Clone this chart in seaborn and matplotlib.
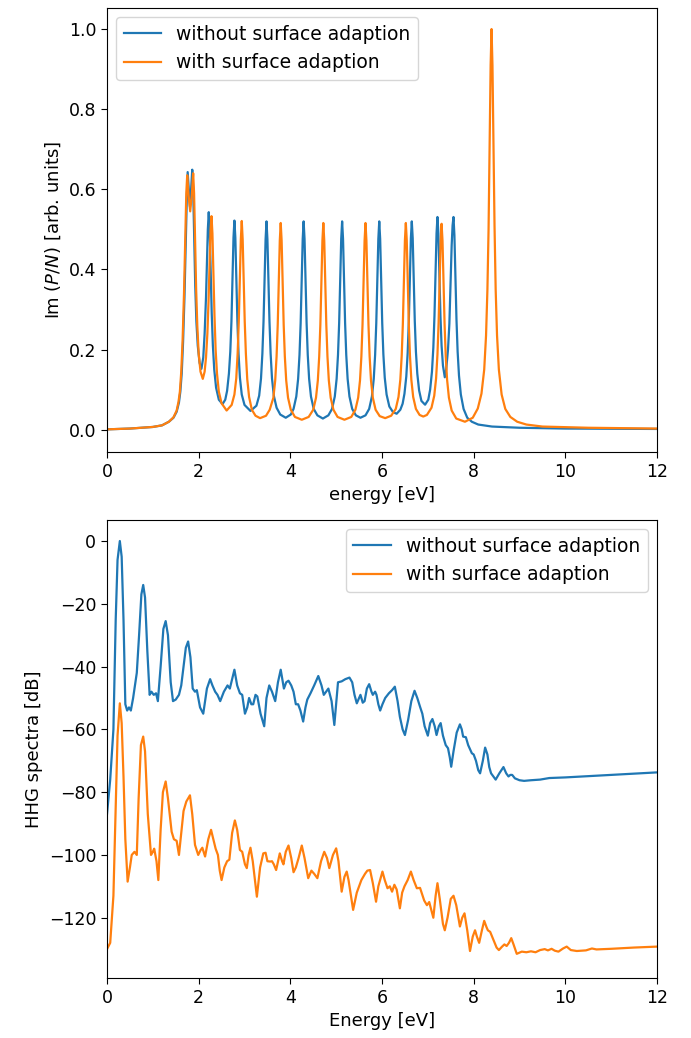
import numpy as np
import pandas as pd
import matplotlib
matplotlib.use("Agg")
import matplotlib.pyplot as plt
import seaborn as sns

# ---------------- top panel: Im(P/N) ----------------
top_e_without = [0.0, 0.5, 1.0, 1.2, 1.35, 1.45, 1.52, 1.57, 1.60, 1.63, 1.66, 1.69, 1.72, 1.74, 1.76,
                 1.785, 1.81, 1.835, 1.86, 1.88, 1.90, 1.925, 1.95, 1.98, 2.02, 2.06, 2.10, 2.13,
                 2.16, 2.18, 2.20, 2.22, 2.24, 2.26, 2.285, 2.31, 2.34, 2.38, 2.44, 2.52, 2.58,
                 2.62, 2.66, 2.69, 2.715, 2.74, 2.76, 2.78, 2.80, 2.82, 2.845, 2.87, 2.90, 2.94,
                 3.00, 3.13, 3.26, 3.32, 3.36, 3.39, 3.415, 3.44, 3.46, 3.48, 3.50, 3.52, 3.545,
                 3.57, 3.60, 3.64, 3.70, 3.78, 3.90, 4.01, 4.07, 4.13, 4.17, 4.20, 4.225, 4.25,
                 4.27, 4.29, 4.31, 4.33, 4.355, 4.38, 4.41, 4.45, 4.51, 4.59, 4.71, 4.83, 4.91,
                 4.97, 5.01, 5.04, 5.065, 5.09, 5.11, 5.13, 5.15, 5.17, 5.195, 5.22, 5.25, 5.29,
                 5.35, 5.43, 5.53, 5.64, 5.72, 5.78, 5.82, 5.85, 5.875, 5.90, 5.92, 5.94, 5.96,
                 5.98, 6.005, 6.03, 6.06, 6.10, 6.16, 6.24, 6.32, 6.40, 6.45, 6.49, 6.53, 6.56,
                 6.585, 6.61, 6.63, 6.65, 6.67, 6.69, 6.715, 6.74, 6.77, 6.81, 6.86, 6.94, 7.01,
                 7.05, 7.09, 7.12, 7.145, 7.17, 7.19, 7.21, 7.23, 7.25, 7.275, 7.30, 7.33, 7.37,
                 7.40, 7.44, 7.47, 7.495, 7.52, 7.54, 7.56, 7.58, 7.60, 7.625, 7.65, 7.68, 7.72,
                 7.78, 7.86, 7.96, 8.1, 8.4, 9.0, 10.0, 12.0]
top_im_without = [0.001, 0.003, 0.007, 0.011, 0.02, 0.03, 0.045, 0.068, 0.095, 0.14, 0.22, 0.33, 0.47, 0.57, 0.643,
                  0.60, 0.557, 0.60, 0.649, 0.60, 0.49, 0.36, 0.27, 0.21, 0.167, 0.152, 0.18, 0.24,
                  0.33, 0.42, 0.50, 0.543, 0.50, 0.41, 0.29, 0.21, 0.15, 0.105, 0.075, 0.064, 0.075,
                  0.097, 0.14, 0.195, 0.27, 0.39, 0.48, 0.522, 0.48, 0.39, 0.27, 0.19, 0.13, 0.088,
                  0.062, 0.047, 0.06, 0.085, 0.128, 0.19, 0.27, 0.38, 0.475, 0.52, 0.475, 0.38, 0.27,
                  0.19, 0.128, 0.085, 0.055, 0.038, 0.03, 0.038, 0.052, 0.083, 0.127, 0.187, 0.266, 0.38,
                  0.476, 0.52, 0.476, 0.38, 0.266, 0.187, 0.127, 0.083, 0.052, 0.036, 0.028, 0.036, 0.052,
                  0.083, 0.127, 0.187, 0.266, 0.38, 0.476, 0.52, 0.476, 0.38, 0.266, 0.187, 0.127, 0.083,
                  0.052, 0.036, 0.03, 0.036, 0.052, 0.083, 0.127, 0.187, 0.266, 0.38, 0.476, 0.52, 0.476,
                  0.38, 0.266, 0.188, 0.13, 0.088, 0.058, 0.044, 0.04, 0.05, 0.065, 0.09, 0.133, 0.192,
                  0.27, 0.385, 0.478, 0.52, 0.478, 0.385, 0.272, 0.195, 0.14, 0.098, 0.072, 0.0625, 0.075,
                  0.10, 0.145, 0.205, 0.285, 0.40, 0.49, 0.531, 0.49, 0.40, 0.285, 0.21, 0.16, 0.131,
                  0.15, 0.20, 0.265, 0.36, 0.46, 0.51, 0.531, 0.485, 0.39, 0.275, 0.195, 0.135, 0.088,
                  0.052, 0.03, 0.02, 0.013, 0.008, 0.005, 0.003, 0.002]

top_e_with = [0.0, 0.5, 1.0, 1.2, 1.35, 1.45, 1.52, 1.56, 1.59, 1.62, 1.65, 1.68, 1.71, 1.73, 1.75,
              1.78, 1.815, 1.85, 1.88, 1.90, 1.92, 1.945, 1.97, 2.00, 2.04, 2.09, 2.13, 2.16, 2.19,
              2.215, 2.24, 2.26, 2.28, 2.30, 2.32, 2.345, 2.37, 2.40, 2.44, 2.50, 2.61, 2.72, 2.78,
              2.82, 2.85, 2.875, 2.90, 2.92, 2.94, 2.96, 2.98, 3.005, 3.03, 3.06, 3.10, 3.16, 3.24,
              3.34, 3.47, 3.55, 3.63, 3.67, 3.70, 3.725, 3.75, 3.77, 3.79, 3.81, 3.83, 3.855, 3.88,
              3.91, 3.95, 4.01, 4.10, 4.25, 4.40, 4.50, 4.56, 4.60, 4.63, 4.655, 4.68, 4.70, 4.72,
              4.74, 4.76, 4.785, 4.81, 4.84, 4.88, 4.94, 5.03, 5.18, 5.33, 5.42, 5.48, 5.52, 5.55,
              5.575, 5.60, 5.62, 5.64, 5.66, 5.68, 5.705, 5.73, 5.76, 5.80, 5.86, 5.95, 6.07, 6.20,
              6.30, 6.36, 6.40, 6.43, 6.455, 6.48, 6.50, 6.52, 6.54, 6.56, 6.585, 6.61, 6.64, 6.68,
              6.74, 6.82, 6.90, 6.98, 7.08, 7.14, 7.18, 7.21, 7.235, 7.26, 7.28, 7.30, 7.32, 7.34,
              7.365, 7.39, 7.42, 7.46, 7.52, 7.62, 7.81, 7.98, 8.09, 8.17, 8.23, 8.27, 8.30, 8.325,
              8.35, 8.37, 8.39, 8.41, 8.43, 8.455, 8.48, 8.51, 8.55, 8.61, 8.69, 8.80, 8.95, 9.15,
              9.5, 10.5, 12.0]
top_im_with = [0.001, 0.003, 0.007, 0.011, 0.02, 0.031, 0.048, 0.07, 0.095, 0.145, 0.225, 0.34, 0.49, 0.59, 0.635,
               0.585, 0.545, 0.585, 0.640, 0.59, 0.48, 0.35, 0.26, 0.19, 0.145, 0.127, 0.145, 0.18, 0.24,
               0.32, 0.42, 0.50, 0.533, 0.49, 0.40, 0.285, 0.20, 0.14, 0.095, 0.066, 0.048, 0.062, 0.088,
               0.128, 0.19, 0.27, 0.38, 0.475, 0.521, 0.475, 0.38, 0.27, 0.19, 0.126, 0.082, 0.05, 0.035,
               0.029, 0.035, 0.05, 0.08, 0.123, 0.183, 0.262, 0.375, 0.472, 0.516, 0.472, 0.375, 0.262, 0.183,
               0.123, 0.08, 0.05, 0.032, 0.025, 0.032, 0.05, 0.08, 0.123, 0.183, 0.262, 0.375, 0.472, 0.516,
               0.472, 0.375, 0.262, 0.183, 0.123, 0.08, 0.05, 0.032, 0.025, 0.032, 0.05, 0.08, 0.123, 0.183,
               0.262, 0.375, 0.472, 0.516, 0.472, 0.375, 0.262, 0.183, 0.123, 0.08, 0.05, 0.034, 0.029, 0.035,
               0.052, 0.082, 0.125, 0.185, 0.264, 0.377, 0.473, 0.516, 0.473, 0.377, 0.264, 0.185, 0.125, 0.082,
               0.052, 0.037, 0.033, 0.037, 0.055, 0.085, 0.128, 0.188, 0.267, 0.378, 0.472, 0.514, 0.472, 0.378,
               0.265, 0.185, 0.125, 0.08, 0.048, 0.028, 0.02, 0.03, 0.053, 0.09, 0.15, 0.235, 0.35, 0.50,
               0.73, 0.91, 1.0, 0.91, 0.73, 0.51, 0.35, 0.235, 0.15, 0.088, 0.052, 0.032, 0.02, 0.013,
               0.008, 0.005, 0.003]

# ---------------- bottom panel: HHG spectra [dB] ----------------
hhg_e_without = [0.00, 0.07, 0.14, 0.19, 0.23, 0.28, 0.32, 0.36, 0.40, 0.44, 0.48, 0.52, 0.57, 0.65, 0.70,
                 0.75, 0.79, 0.83, 0.88, 0.93, 0.97, 1.02, 1.07, 1.11, 1.17, 1.23, 1.28, 1.33, 1.39,
                 1.44, 1.50, 1.57, 1.62, 1.67, 1.72, 1.77, 1.82, 1.87, 1.92, 1.96, 2.03, 2.10, 2.18,
                 2.25, 2.30, 2.36, 2.41, 2.47, 2.55, 2.63, 2.68, 2.73, 2.78, 2.84, 2.90, 2.95, 3.01,
                 3.06, 3.10, 3.15, 3.19, 3.24, 3.28, 3.35, 3.43, 3.48, 3.54, 3.60, 3.67, 3.73, 3.79,
                 3.86, 3.91, 3.96, 4.02, 4.07, 4.12, 4.17, 4.22, 4.28, 4.33, 4.37, 4.44, 4.52, 4.61,
                 4.68, 4.73, 4.78, 4.83, 4.90, 4.96, 5.01, 5.04, 5.12, 5.20, 5.29, 5.35, 5.40, 5.45,
                 5.50, 5.53, 5.58, 5.62, 5.67, 5.72, 5.77, 5.80, 5.85, 5.88, 5.92, 5.96, 6.01, 6.07,
                 6.15, 6.22, 6.28, 6.34, 6.39, 6.45, 6.50, 6.57, 6.64, 6.71, 6.77, 6.83, 6.88, 6.93,
                 7.00, 7.05, 7.10, 7.15, 7.19, 7.24, 7.28, 7.33, 7.39, 7.44, 7.48, 7.51, 7.56, 7.63,
                 7.70, 7.74, 7.77, 7.83, 7.88, 7.96, 8.00, 8.05, 8.10, 8.14, 8.20, 8.25, 8.30, 8.34,
                 8.38, 8.43, 8.48, 8.56, 8.65, 8.71, 8.76, 8.80, 8.84, 8.90, 9.00, 9.10, 9.25, 9.45,
                 9.65, 10.0, 10.5, 11.0, 11.5, 12.0]
hhg_db_without = [-87, -76, -60, -25, -6, 0, -5, -25, -52, -54, -53, -54, -50, -42, -30,
                  -17, -14, -18, -35, -49, -48, -49, -48.5, -51, -40, -28, -25.5, -30, -45,
                  -51, -50.5, -49, -46, -40, -34, -32, -37, -47, -48, -47.5, -53, -55, -47,
                  -44, -46, -48, -49, -51, -48, -46, -47, -44, -41, -46, -48.5, -49, -55,
                  -53, -50, -52, -52, -49, -49.5, -55, -59, -50, -46, -48, -51, -45, -41,
                  -47, -45, -44.5, -46, -48, -52, -52, -54, -57.5, -53, -50.5, -48.5, -46, -43,
                  -46, -49, -48, -47, -51, -58.6, -50, -45, -44.7, -44, -43.5, -45, -49, -51.7,
                  -50, -49, -51.5, -51, -47, -45.6, -48, -49, -48, -49, -52, -54, -52, -50,
                  -48.5, -47.5, -46.4, -51, -56, -60, -61.8, -57, -51, -47.7, -50, -52.8, -55, -59,
                  -62, -58, -56.7, -59, -61.8, -59, -58, -62, -65, -66, -69, -71.9, -67, -61,
                  -58.4, -60, -62.3, -62.5, -65, -67.6, -68, -70, -73, -74, -70, -65.8, -68, -72,
                  -74, -75, -76, -74, -72, -74, -75, -74.5, -74.5, -75.6, -76.2, -76.4, -76.2, -76.0,
                  -75.5, -75.3, -74.9, -74.5, -74.1, -73.7]

hhg_e_with = [0.00, 0.07, 0.14, 0.19, 0.23, 0.28, 0.32, 0.36, 0.40, 0.45, 0.50, 0.54, 0.60, 0.65, 0.69,
              0.74, 0.79, 0.83, 0.89, 0.96, 1.00, 1.03, 1.08, 1.12, 1.17, 1.22, 1.28, 1.33, 1.41,
              1.46, 1.52, 1.57, 1.62, 1.67, 1.73, 1.81, 1.86, 1.92, 1.99, 2.04, 2.08, 2.14, 2.21,
              2.27, 2.32, 2.37, 2.42, 2.46, 2.50, 2.56, 2.62, 2.67, 2.73, 2.79, 2.84, 2.90, 2.95,
              3.01, 3.05, 3.09, 3.13, 3.18, 3.27, 3.34, 3.41, 3.46, 3.50, 3.56, 3.60, 3.64, 3.69,
              3.77, 3.82, 3.85, 3.90, 3.96, 4.02, 4.07, 4.12, 4.18, 4.25, 4.31, 4.39, 4.46, 4.52,
              4.59, 4.67, 4.74, 4.80, 4.85, 4.93, 5.00, 5.05, 5.12, 5.18, 5.23, 5.27, 5.37, 5.45,
              5.55, 5.63, 5.68, 5.74, 5.80, 5.87, 5.92, 6.01, 6.06, 6.12, 6.17, 6.22, 6.27, 6.32,
              6.39, 6.44, 6.49, 6.56, 6.63, 6.69, 6.76, 6.83, 6.92, 6.98, 7.03, 7.12, 7.17, 7.21,
              7.26, 7.33, 7.37, 7.43, 7.50, 7.56, 7.62, 7.70, 7.75, 7.80, 7.86, 7.92, 7.98, 8.03,
              8.07, 8.12, 8.18, 8.23, 8.28, 8.31, 8.36, 8.43, 8.50, 8.55, 8.62, 8.67, 8.72, 8.77,
              8.82, 8.87, 8.94, 9.05, 9.15, 9.25, 9.35, 9.45, 9.55, 9.62, 9.70, 9.77, 9.85, 9.95,
              10.03, 10.12, 10.25, 10.45, 10.58, 10.68, 11.0, 11.5, 12.0]
hhg_db_with = [-130, -128, -113, -85, -62, -51.7, -58, -75, -95, -108.5, -104, -100, -99, -100, -82,
               -65, -62.3, -67, -87, -100, -99, -98, -102, -108, -92, -80, -76.6, -82, -92.6,
               -95, -95.5, -100, -93, -86, -83, -81, -87, -96.8, -100, -98.5, -97.7, -100.5, -95,
               -92, -95, -98, -100, -105, -108, -104, -102, -101.5, -93, -89, -92, -98.4, -99,
               -103, -104.2, -100, -97.7, -102, -113.3, -104, -99.5, -99.3, -102, -102.1, -102, -103, -104.8,
               -99.5, -102, -103, -99, -97, -101, -105.5, -104, -101, -97, -101, -107.4, -105, -106,
               -107.4, -102, -99, -101, -104.2, -100, -97.9, -102, -111.7, -107, -105.3, -108, -117.5, -112,
               -108, -106, -105, -104.8, -109, -114.9, -110, -105.3, -108, -110.6, -110, -111.7, -109.5, -111,
               -117, -112, -110, -108, -105.3, -108, -110.6, -110.5, -114.5, -116, -115, -120, -113, -109,
               -114, -122, -124, -120, -114, -113, -116, -122.8, -120, -118.6, -124, -130.6, -126, -124,
               -126, -128, -124, -121, -123, -124, -124.5, -127, -129.5, -130.3, -129.2, -128.5, -129, -128,
               -126.5, -128.5, -131.5, -130.8, -131, -130.7, -131, -130.3, -130.0, -130.4, -129.9, -130.5, -130.8, -129.8,
               -129.2, -130.3, -130.6, -130.4, -129.8, -130.1, -129.9, -129.5, -129.2]

labels = ["without surface adaption", "with surface adaption"]
colors = ["#1f77b4", "#ff7f0e"]

plt.rcParams.update({"font.size": 13, "axes.labelsize": 13, "xtick.labelsize": 12.5,
                     "ytick.labelsize": 12.5, "legend.fontsize": 13.5,
                     "xtick.major.size": 4.2, "ytick.major.size": 4.2,
                     "font.family": ["DejaVu Sans"]})

fig = plt.figure(figsize=(6.91, 10.38), dpi=100)
W, H = 691, 1038
ax1 = fig.add_axes([107 / W, 1 - 452 / H, 550 / W, 444 / H])
ax2 = fig.add_axes([107 / W, 1 - 978 / H, 550 / W, 458 / H])

sns.lineplot(x=top_e_without, y=top_im_without, ax=ax1, color=colors[0], label=labels[0], lw=1.6)
sns.lineplot(x=top_e_with, y=top_im_with, ax=ax1, color=colors[1], label=labels[1], lw=1.6)
ax1.set_xlim(0, 12)
ax1.set_ylim(-0.0555, 1.0525)
ax1.set_xticks([0, 2, 4, 6, 8, 10, 12])
ax1.set_yticks([0.0, 0.2, 0.4, 0.6, 0.8, 1.0])
ax1.set_xlabel("energy [eV]")
ax1.set_ylabel("Im ($P/N$) [arb. units]")
ax1.legend(loc="upper left")

sns.lineplot(x=hhg_e_without, y=hhg_db_without, ax=ax2, color=colors[0], label=labels[0], lw=1.6)
sns.lineplot(x=hhg_e_with, y=hhg_db_with, ax=ax2, color=colors[1], label=labels[1], lw=1.6)
ax2.set_xlim(0, 12)
ax2.set_ylim(-139.2, 6.7)
ax2.set_xticks([0, 2, 4, 6, 8, 10, 12])
ax2.set_yticks([0, -20, -40, -60, -80, -100, -120])
ax2.set_xlabel("Energy [eV]")
ax2.set_ylabel("HHG spectra [dB]")
ax2.legend(loc="upper right")

fig.savefig("out.png", dpi=100)
